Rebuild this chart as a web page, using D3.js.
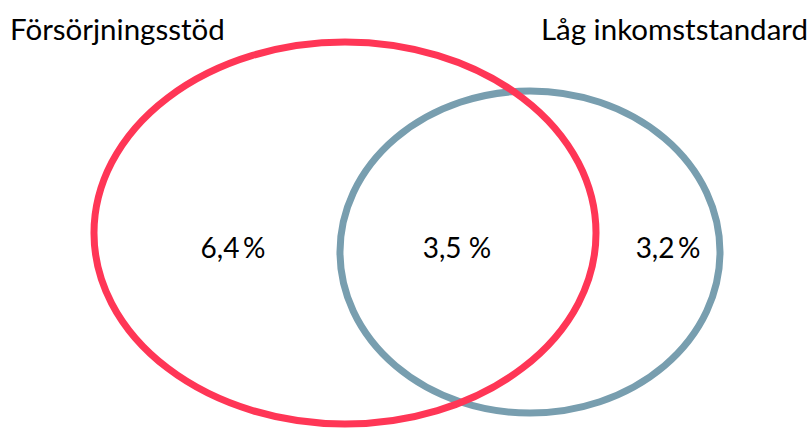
<!DOCTYPE html>
<html>
<head>
<meta charset="utf-8">
<script src="https://cdn.jsdelivr.net/npm/d3@7"></script>
<style>
  html, body { margin: 0; padding: 0; background: #fff; }
  svg { display: block; }
  text { font-family: Lato, "Open Sans", sans-serif; fill: #000; }
</style>
</head>
<body>
<div id="venn"></div>
<script>
const WIDTH = 811
const HEIGHT = 428

// data
const setNames = ["Försörjningsstöd", "Låg inkomststandard"]
const regionLabels = ["6,4\u2009%", "3,5 %", "3,2\u2009%"]   // only first, both, only second
const regionValues = [6.4, 3.5, 3.2]
const setColors = ["#ff3656", "#789eaf"]

// layout of the two ellipses, in a 0..1 box mapped by scales
const ellipses = [
  {cx: 0.4254, cy: 0.5444, rx: 0.3095, ry: 0.4463},
  {cx: 0.6535, cy: 0.5888, rx: 0.2343, ry: 0.3762}
]
const regionX = [0.2873, 0.5635, 0.8237]

const x = d3.scaleLinear().domain([0, 1]).range([0, WIDTH])
const y = d3.scaleLinear().domain([0, 1]).range([0, HEIGHT])

var svg = d3.select("#venn")
  .append("svg")
  .attr("width", WIDTH)
  .attr("height", HEIGHT)

// blue first, red on top
var order = [1, 0]
svg.selectAll("ellipse")
  .data(order)
  .enter()
  .append("ellipse")
  .attr("cx", i => x(ellipses[i].cx))
  .attr("cy", i => y(ellipses[i].cy))
  .attr("rx", i => x(ellipses[i].rx))
  .attr("ry", i => y(ellipses[i].ry))
  .attr("fill", "none")
  .attr("stroke", i => setColors[i])
  .attr("stroke-width", 7)

// set names
svg.append("text")
  .attr("x", 10)
  .attr("y", 40)
  .attr("font-size", 29.5)
  .text(setNames[0])

svg.append("text")
  .attr("x", 808)
  .attr("y", 40)
  .attr("text-anchor", "end")
  .attr("font-size", 29.5)
  .text(setNames[1])

// region values
svg.selectAll(".val")
  .data(regionValues)
  .enter()
  .append("text")
  .attr("class", "val")
  .attr("x", (d, i) => x(regionX[i]))
  .attr("y", 258)
  .attr("text-anchor", "middle")
  .attr("font-size", 28)
  .text((d, i) => regionLabels[i])
</script>
</body>
</html>
